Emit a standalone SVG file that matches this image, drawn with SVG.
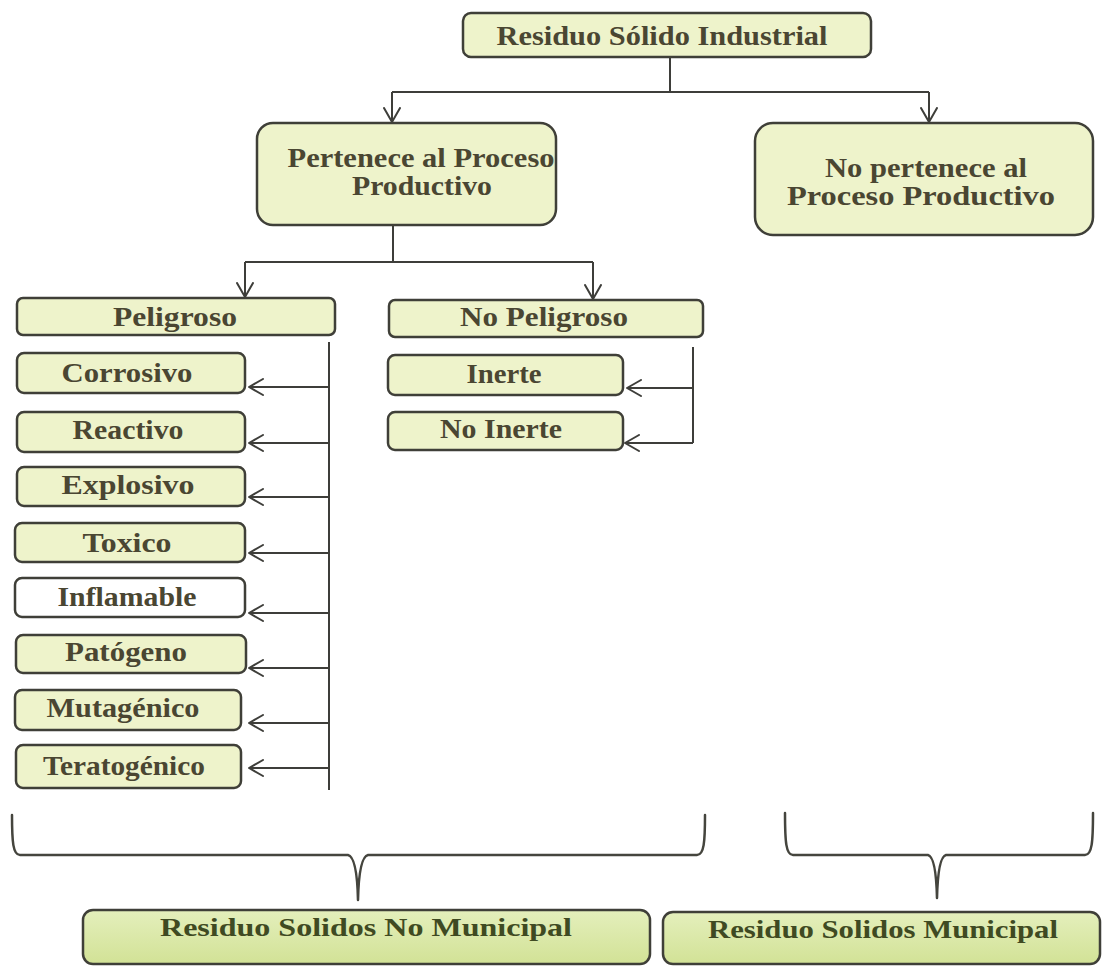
<svg xmlns="http://www.w3.org/2000/svg" width="1103" height="967" viewBox="0 0 1103 967">
  <defs>
    <marker id="arr" viewBox="0 0 16 18" refX="15" refY="9" markerWidth="16" markerHeight="18" markerUnits="userSpaceOnUse" orient="auto">
      <path d="M1,1 L15,9 L1,17" fill="none" stroke="#3e3e3a" stroke-width="2" stroke-linecap="round" stroke-linejoin="round"/>
    </marker>
    <linearGradient id="greenFill" x1="0" y1="0" x2="0" y2="1">
      <stop offset="0" stop-color="#e4efbc"/>
      <stop offset="1" stop-color="#d2e296"/>
    </linearGradient>
  </defs>
  <style>
    .box { fill: #eef3cb; stroke: #3f3f38; stroke-width: 2.5; }
    .box.white { fill: #ffffff; }
    .box.green { fill: url(#greenFill); }
    .lbl { font-family: "Liberation Serif", "Times New Roman", serif; font-weight: bold; fill: #4a4632; text-anchor: middle; }
    .lbl.big { font-size: 28px; }
    .lbl.sm { font-size: 27px; }
    .lbl.bot { font-size: 25px; fill: #3f4a22; }
    .wire { fill: none; stroke: #3e3e3a; stroke-width: 2; }
    .arrow { fill: none; stroke: #3e3e3a; stroke-width: 2; marker-end: url(#arr); }
    .brace { fill: none; stroke: #45453e; stroke-width: 2.5; stroke-linecap: round; stroke-linejoin: round; }
  </style>
  <rect width="1103" height="967" fill="#ffffff"/>

  <!-- connectors -->
  <g id="connectors">
    <line class="wire" x1="670" y1="57" x2="670" y2="92"/>
    <line class="wire" x1="392" y1="92" x2="929" y2="92"/>
    <line class="arrow" x1="392" y1="92" x2="392" y2="122"/>
    <line class="arrow" x1="929" y1="92" x2="929" y2="122"/>

    <line class="wire" x1="393" y1="225" x2="393" y2="262"/>
    <line class="wire" x1="245" y1="262" x2="593" y2="262"/>
    <line class="arrow" x1="245" y1="262" x2="245" y2="297"/>
    <line class="arrow" x1="593" y1="262" x2="593" y2="299"/>

    <line class="wire" x1="329" y1="342" x2="329" y2="790"/>
    <line class="arrow" x1="329" y1="387" x2="249" y2="387"/>
    <line class="arrow" x1="329" y1="443" x2="249" y2="443"/>
    <line class="arrow" x1="329" y1="497" x2="249" y2="497"/>
    <line class="arrow" x1="329" y1="553" x2="249" y2="553"/>
    <line class="arrow" x1="329" y1="613" x2="249" y2="613"/>
    <line class="arrow" x1="329" y1="668" x2="249" y2="668"/>
    <line class="arrow" x1="329" y1="723" x2="249" y2="723"/>
    <line class="arrow" x1="329" y1="768" x2="249" y2="768"/>

    <line class="wire" x1="693" y1="347" x2="693" y2="443"/>
    <line class="arrow" x1="693" y1="388" x2="627" y2="388"/>
    <line class="arrow" x1="693" y1="443" x2="625" y2="443"/>

    <path class="brace" d="M12,815 C12,842 13,855 20,855 L348,855 Q357,857 358,900 Q359,857 368,855 L697,855 C704,855 705,842 705,815"/>
    <path class="brace" d="M785,813 C785,842 786,855 793,855 L928,855 Q936,857 937,898 Q938,857 946,855 L1085,855 C1092,855 1093,842 1093,813"/>
  </g>

  <g id="n-industrial">
    <rect class="box" x="463" y="13" width="408" height="44" rx="8"/>
    <text class="lbl big" x="662" y="45" textLength="331" lengthAdjust="spacingAndGlyphs">Residuo Sólido Industrial</text>
  </g>

  <g id="n-pertenece">
    <rect class="box" x="257" y="123" width="299" height="102" rx="16"/>
    <text class="lbl big" x="421" y="167" textLength="267" lengthAdjust="spacingAndGlyphs">Pertenece al Proceso</text>
    <text class="lbl big" x="422" y="195" textLength="140" lengthAdjust="spacingAndGlyphs">Productivo</text>
  </g>

  <g id="n-nopertenece">
    <rect class="box" x="755" y="123" width="338" height="112" rx="18"/>
    <text class="lbl big" x="926" y="177" textLength="202" lengthAdjust="spacingAndGlyphs">No pertenece  al</text>
    <text class="lbl big" x="921" y="205" textLength="268" lengthAdjust="spacingAndGlyphs">Proceso Productivo</text>
  </g>

  <g id="n-peligroso">
    <rect class="box" x="17" y="298" width="318" height="37" rx="6"/>
    <text class="lbl sm" x="175" y="326" textLength="124" lengthAdjust="spacingAndGlyphs">Peligroso</text>
  </g>

  <g id="n-nopeligroso">
    <rect class="box" x="389" y="300" width="314" height="37" rx="6"/>
    <text class="lbl sm" x="544" y="326" textLength="168" lengthAdjust="spacingAndGlyphs">No Peligroso</text>
  </g>

  <g id="n-corrosivo">
    <rect class="box" x="17" y="353" width="228" height="40" rx="7"/>
    <text class="lbl sm" x="127" y="382" textLength="131" lengthAdjust="spacingAndGlyphs">Corrosivo</text>
  </g>

  <g id="n-reactivo">
    <rect class="box" x="17" y="412" width="228" height="40" rx="7"/>
    <text class="lbl sm" x="128" y="439" textLength="111" lengthAdjust="spacingAndGlyphs">Reactivo</text>
  </g>

  <g id="n-explosivo">
    <rect class="box" x="17" y="467" width="228" height="39" rx="7"/>
    <text class="lbl sm" x="128" y="494" textLength="133" lengthAdjust="spacingAndGlyphs">Explosivo</text>
  </g>

  <g id="n-toxico">
    <rect class="box" x="15" y="523" width="230" height="39" rx="7"/>
    <text class="lbl sm" x="127" y="552" textLength="89" lengthAdjust="spacingAndGlyphs">Toxico</text>
  </g>

  <g id="n-inflamable">
    <rect class="box white" x="15" y="578" width="230" height="39" rx="7"/>
    <text class="lbl sm" x="127" y="606" textLength="139" lengthAdjust="spacingAndGlyphs">Inflamable</text>
  </g>

  <g id="n-patogeno">
    <rect class="box" x="16" y="635" width="230" height="38" rx="7"/>
    <text class="lbl sm" x="126" y="661" textLength="122" lengthAdjust="spacingAndGlyphs">Patógeno</text>
  </g>

  <g id="n-mutagenico">
    <rect class="box" x="15" y="690" width="226" height="40" rx="7"/>
    <text class="lbl sm" x="123" y="717" textLength="153" lengthAdjust="spacingAndGlyphs">Mutagénico</text>
  </g>

  <g id="n-teratogenico">
    <rect class="box" x="16" y="745" width="225" height="43" rx="7"/>
    <text class="lbl sm" x="124" y="775" textLength="162" lengthAdjust="spacingAndGlyphs">Teratogénico</text>
  </g>

  <g id="n-inerte">
    <rect class="box" x="388" y="355" width="235" height="40" rx="7"/>
    <text class="lbl sm" x="504" y="383" textLength="75" lengthAdjust="spacingAndGlyphs">Inerte</text>
  </g>

  <g id="n-noinerte">
    <rect class="box" x="388" y="412" width="235" height="38" rx="7"/>
    <text class="lbl sm" x="501" y="438" textLength="122" lengthAdjust="spacingAndGlyphs">No Inerte</text>
  </g>

  <g id="n-nomunicipal">
    <rect class="box green" x="83" y="910" width="567" height="54" rx="10"/>
    <text class="lbl bot" x="366" y="936" textLength="412" lengthAdjust="spacingAndGlyphs">Residuo Solidos No Municipal</text>
  </g>

  <g id="n-municipal">
    <rect class="box green" x="663" y="912" width="437" height="52" rx="10"/>
    <text class="lbl bot" x="883" y="938" textLength="350" lengthAdjust="spacingAndGlyphs">Residuo Solidos Municipal</text>
  </g>
</svg>
